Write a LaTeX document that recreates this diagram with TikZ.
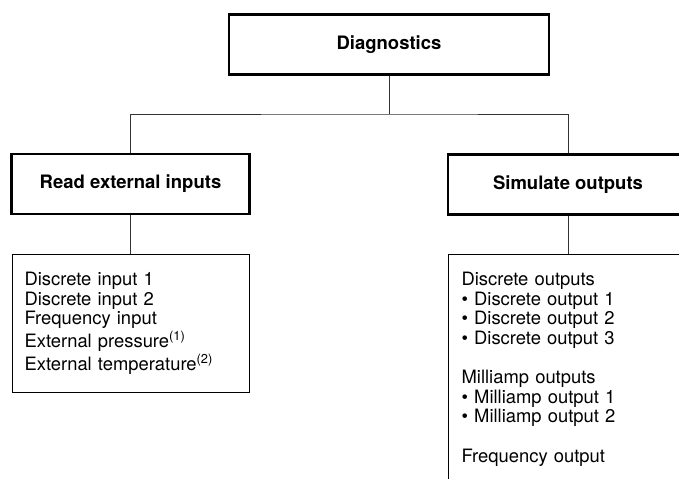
\documentclass[tikz,border=0pt]{standalone}
\usepackage{fontspec}
\setmainfont{TeX Gyre Heros}

\tikzset{
  headbox/.style={draw, line width=1.2pt, minimum height=30pt,
    font=\fontsize{9.25}{11}\selectfont\bfseries},
  listbox/.style={draw, line width=0.6pt, anchor=north west, align=left,
    inner xsep=6pt, inner ysep=8.8pt, font=\fontsize{9.2}{9.8}\selectfont},
  link/.style={line width=0.5pt, draw=black!80}
}

\begin{document}
\begin{tikzpicture}[x=0.5pt, y=-0.5pt]
    \useasboundingbox (0,0) rectangle (679,478);
    \clip (0,0) rectangle (679,478);

    \node[headbox, minimum width=160pt] (diag) at (389,44.5) {Diagnostics};
    \node[headbox, minimum width=119pt] (read) at (130.5,184) {Read external inputs};
    \node[headbox, minimum width=120pt] (sim) at (568,184.5) {Simulate outputs};
    \coordinate (fork) at (389,114);

    \node[listbox, text width=106.5pt] (inputs) at (12,254) {Discrete input 1\\
        Discrete input 2\\
        Frequency input\\
        External pressure\textsuperscript{(1)}\\
        External temperature\textsuperscript{(2)}};
    \node[listbox, text width=107pt, inner xsep=6.5pt] (outputs) at (448,254) {Discrete outputs\\
        \textbullet\ Discrete output 1\\
        \textbullet\ Discrete output 2\\
        \textbullet\ Discrete output 3\\[9.8pt]
        Milliamp outputs\\
        \textbullet\ Milliamp output 1\\
        \textbullet\ Milliamp output 2\\[9.8pt]
        Frequency output};

    % tree connectors
    \draw[link] (diag.south) -- (fork);
    \draw[link] (read.north) |- (fork) -| (sim.north);
    \draw[link] (read.south) -- (read.south |- inputs.north);
    \draw[link] (sim.south) -- (sim.south |- outputs.north);
\end{tikzpicture}
\end{document}
